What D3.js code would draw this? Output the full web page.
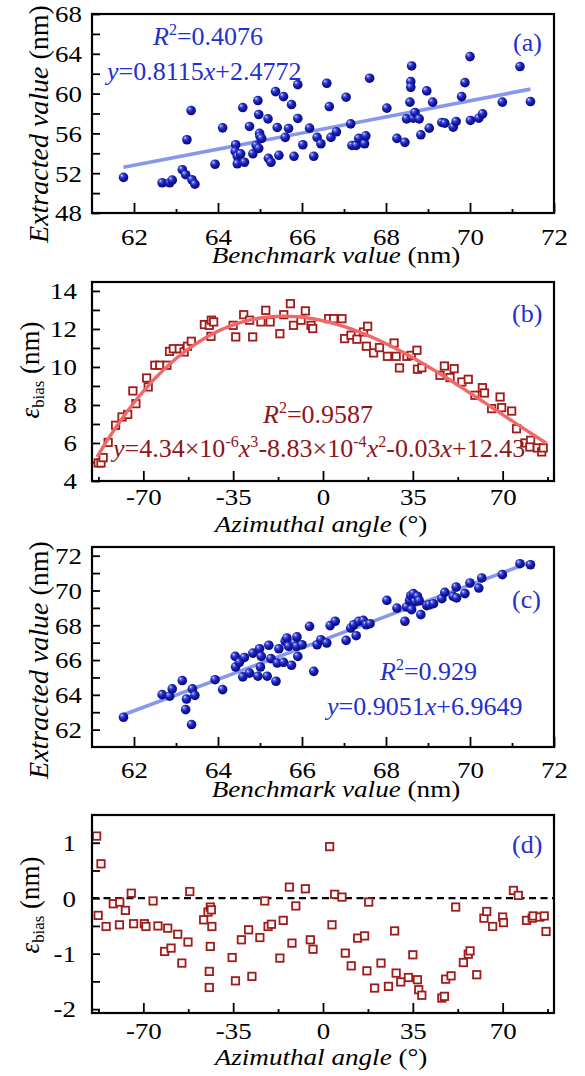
<!DOCTYPE html>
<html>
<head>
<meta charset="utf-8">
<script src="https://cdn.jsdelivr.net/npm/d3@7"></script>
<style>
  body { margin: 0; background: #fff; }
</style>
</head>
<body>
<div id="fig"></div>
<script>
// ---- data ----
// (a) benchmark vs extracted value (nm)
const benchA = [61.75, 62.67, 62.85, 62.91, 63.15, 63.23, 63.38, 63.45, 63.26, 63.36, 63.93, 64.11, 64.42, 64.41, 64.46, 64.46, 64.54, 64.63, 64.59, 64.75, 64.83, 64.91, 64.95, 64.97, 64.99, 65.0, 64.97, 65.04, 65.19, 65.2, 65.26, 65.37, 65.41, 65.45, 65.56, 65.6, 65.68, 65.75, 65.81, 65.9, 65.9, 66.02, 66.18, 66.28, 66.36, 66.45, 66.59, 66.65, 66.69, 66.82, 67.05, 67.16, 67.19, 67.29, 67.35, 67.49, 67.52, 67.61, 68.02, 68.26, 68.45, 68.49, 68.57, 68.59, 68.59, 68.61, 68.65, 68.69, 68.79, 68.83, 68.97, 69.03, 69.11, 69.33, 69.4, 69.6, 69.67, 69.8, 69.88, 70.0, 70.01, 70.21, 70.3, 70.77, 71.19, 71.44];
const extractA = [51.58, 51.04, 51.04, 51.3, 52.35, 51.85, 51.34, 50.9, 55.36, 58.3, 52.9, 56.56, 54.86, 54.19, 53.7, 52.95, 53.95, 53.1, 58.6, 56.7, 53.95, 54.8, 59.3, 57.9, 56.0, 55.7, 54.5, 55.5, 57.46, 53.5, 53.1, 60.2, 56.6, 53.8, 59.7, 55.6, 56.5, 58.9, 53.7, 60.9, 57.5, 54.86, 56.53, 53.7, 55.6, 54.96, 61.04, 58.7, 55.6, 56.16, 59.64, 56.96, 54.79, 54.79, 55.5, 54.96, 55.76, 61.55, 58.54, 55.5, 55.1, 57.46, 59.14, 61.2, 60.64, 62.78, 57.53, 58.1, 57.46, 55.86, 60.27, 56.53, 59.14, 57.1, 57.03, 56.63, 57.2, 59.7, 61.1, 63.72, 57.3, 57.53, 57.97, 59.14, 62.72, 59.2];
const fitA = [0.8115, 2.4772];

// (b) azimuthal angle vs bias (nm)
const angleB = [-87.56, -86.5, -85.65, -83.7, -80.8, -78.3, -76.1, -74.07, -72.9, -68.7, -68.1, -65.5, -63.6, -60.8, -59.8, -58.3, -56.0, -54.1, -52.8, -51.3, -46.2, -44.3, -43.5, -42.6, -43.65, -35, -34.0, -30.9, -28.6, -27.4, -24.2, -22.3, -20.6, -16.8, -15.3, -12.7, -11.5, -8.56, -6.87, -4.67, -4.0, 2.2, 4.15, 7.39, 8.43, 10.9, 13.2, 15.8, 17.4, 16.9, 19.7, 22.0, 25.1, 27.7, 28.5, 29.8, 32.7, 34.4, 36.6, 36.8, 38.5, 45.6, 47.3, 49.5, 51.1, 54.1, 56.6, 59.2, 62.1, 62.9, 65.7, 69.0, 69.6, 73.5, 75.4, 78.7, 80.9, 80.6, 83.5, 85.2, 85.8];
const biasB = [4.95, 4.95, 5.23, 6.03, 6.93, 7.37, 7.5, 8.74, 8.07, 9.42, 8.95, 10.09, 10.09, 10.09, 10.82, 10.96, 10.96, 10.79, 11.09, 11.35, 12.23, 12.19, 12.46, 12.37, 11.61, 12.19, 11.58, 12.75, 12.46, 11.58, 12.37, 12.98, 12.37, 11.75, 12.75, 13.33, 12.19, 12.46, 12.95, 12.19, 12.02, 12.54, 12.54, 12.54, 11.49, 11.67, 11.46, 11.84, 12.14, 11.09, 10.74, 11.02, 10.56, 11.26, 10.56, 9.95, 10.56, 10.61, 10.88, 9.88, 9.96, 9.56, 10.05, 9.44, 9.91, 9.21, 9.35, 8.51, 8.91, 8.63, 7.81, 8.42, 7.86, 7.68, 6.75, 6.0, 6.14, 5.79, 5.74, 5.53, 5.74];
const polyB = [12.43, -0.03, -8.83e-4, 4.34e-6]; // c0 + c1 x + c2 x^2 + c3 x^3
const polyRangeB = [-88, 87];

// (c) benchmark vs corrected extracted value (nm)
const benchC = [61.75, 62.67, 62.85, 62.91, 63.15, 63.23, 63.25, 63.37, 63.39, 63.45, 63.93, 64.11, 64.41, 64.42, 64.51, 64.59, 64.63, 64.75, 64.83, 64.95, 64.99, 65.01, 65.03, 65.17, 65.21, 65.26, 65.38, 65.41, 65.45, 65.56, 65.6, 65.64, 65.68, 65.75, 65.82, 65.88, 65.9, 65.87, 66.0, 66.18, 66.28, 66.36, 66.45, 66.59, 66.67, 66.79, 67.05, 67.16, 67.23, 67.29, 67.35, 67.46, 67.53, 67.62, 68.02, 68.26, 68.45, 68.49, 68.56, 68.59, 68.65, 68.69, 68.61, 68.75, 68.79, 68.83, 68.97, 69.03, 69.13, 69.33, 69.4, 69.6, 69.67, 69.68, 69.88, 70.0, 70.21, 70.28, 70.77, 71.19, 71.44];
const extractC = [62.71, 64.01, 63.92, 64.34, 64.82, 63.15, 63.76, 62.29, 64.34, 63.97, 64.87, 64.3, 66.21, 65.6, 65.87, 65.03, 66.15, 65.25, 66.4, 65.07, 66.65, 65.6, 66.21, 65.07, 66.85, 66.08, 64.78, 65.83, 66.65, 65.87, 67.08, 67.27, 66.79, 65.7, 66.98, 67.33, 66.21, 66.79, 66.88, 67.94, 65.35, 66.88, 67.17, 66.98, 67.98, 68.23, 67.13, 67.84, 68.03, 67.4, 68.23, 68.28, 68.03, 68.09, 69.43, 68.99, 68.23, 69.05, 69.43, 69.7, 69.82, 69.37, 68.9, 69.66, 69.41, 68.61, 69.13, 69.18, 69.24, 69.53, 69.89, 69.66, 70.2, 69.57, 69.82, 70.43, 70.14, 70.72, 70.91, 71.54, 71.48];
const fitC = [0.9051, 6.9649];

// (d) azimuthal angle vs residual bias (nm)
const angleD = [-88.2, -86.5, -87.6, -84.5, -81.7, -79.2, -79.3, -77.0, -74.7, -73.8, -69.6, -69.0, -66.2, -64.3, -61.7, -60.5, -59.2, -56.6, -55.0, -52.6, -51.9, -46.5, -44.8, -43.9, -43.5, -43.3, -43.9, -44.3, -44.3, -35.4, -34.1, -31.8, -29.0, -27.7, -24.6, -22.7, -21.4, -20.1, -16.8, -15.5, -13.1, -12.1, -10.6, -6.87, -4.93, -3.89, 2.59, 3.5, 4.54, 7.39, 8.69, 11.0, 13.5, 16.2, 17.1, 17.8, 20.1, 22.6, 25.5, 27.9, 28.5, 30.3, 33.3, 35.0, 36.8, 37.3, 38.5, 46.3, 47.3, 47.8, 49.9, 51.7, 54.7, 56.6, 57.3, 59.9, 62.7, 63.8, 66.1, 70.0, 70.3, 74.2, 76.1, 79.3, 81.5, 81.9, 84.5, 86.2, 86.9];
const biasD = [1.12, 0.62, -0.31, -0.51, -0.10, -0.07, -0.48, -0.22, 0.09, -0.46, -0.46, -0.51, -0.05, -0.50, -0.96, -0.54, -0.90, -0.65, -1.17, -0.79, 0.12, -0.39, -0.25, -0.16, -0.21, -0.51, -0.87, -1.32, -1.61, -1.07, -1.49, -0.75, -0.57, -1.41, -0.71, -0.05, -0.51, -0.47, -1.08, -0.40, 0.20, -0.81, -0.14, 0.17, -0.75, -0.92, 0.93, -0.48, 0.07, 0.02, -0.99, -1.22, -0.72, -0.68, -1.31, -0.07, -1.62, -1.17, -1.59, -0.59, -1.35, -1.51, -1.43, -1.02, -1.47, -1.65, -1.75, -1.80, -1.77, -1.46, -1.40, -0.16, -1.16, -1.01, -0.95, -1.38, -0.36, -0.24, -0.51, -0.34, -0.44, 0.14, 0.05, -0.40, -0.36, -0.32, -0.34, -0.32, -0.60];

// ---- ticks ----
const benchTicks = [62, 64, 66, 68, 70, 72];
const benchMinor = [63, 65, 67, 69, 71];
const angleTicks = [-70, -35, 0, 35, 70];
const angleMinor = [-87.5, -52.5, -17.5, 17.5, 52.5, 87.5];
const yTicksA = [48, 50, 52, 54, 56, 58, 60, 62, 64, 66, 68];
const yLabelsA = [48, 52, 56, 60, 64, 68];
const yTicksB = [4, 5, 6, 7, 8, 9, 10, 11, 12, 13, 14];
const yLabelsB = [4, 6, 8, 10, 12, 14];
const yTicksC = [62, 63, 64, 65, 66, 67, 68, 69, 70, 71, 72];
const yLabelsC = [62, 64, 66, 68, 70, 72];
const yTicksD = [-2, -1.5, -1, -0.5, 0, 0.5, 1];
const yLabelsD = [-2, -1, 0, 1];

// ---- layout ----
const W = 585, H = 1076;
const LEFT = 92, RIGHT = 554;
const SERIF = '"Liberation Serif", "Times New Roman", serif';
const BLUE = '#2330cf', RED = '#8e1616';
const TICK_SIZE = 23, TICK_SX = 1.17;

const svg = d3.select('#fig').append('svg')
  .attr('width', W)
  .attr('height', H)
  .attr('font-family', SERIF);

const grad = svg.append('defs').append('radialGradient')
  .attr('id', 'ball')
  .attr('cx', '42%').attr('cy', '40%').attr('r', '62%')
  .attr('fx', '30%').attr('fy', '28%');
[[0, '#eef0ff'], [0.2, '#5b68e6'], [0.5, '#1a22bb'], [1, '#06066e']]
  .forEach(([o, c]) => grad.append('stop').attr('offset', o).attr('stop-color', c));

// text with italic / super / sub parts
function richText(parent, parts, size, opt) {
  const t = parent.append('text')
    .attr('transform', `translate(${opt.x},${opt.y}) rotate(${opt.rotate || 0}) scale(${opt.sx || 1},1)`)
    .attr('text-anchor', opt.anchor || 'start')
    .attr('font-size', size)
    .attr('fill', opt.fill || '#000');
  let shift = 0;
  parts.forEach(([str, style]) => {
    const ts = t.append('tspan').text(str);
    let target = 0, fs = size;
    if (style === 'i') ts.attr('font-style', 'italic');
    if (style === 'sup') { target = -0.38 * size; fs = 0.62 * size; }
    if (style === 'sub') { target = 0.2 * size; fs = 0.62 * size; }
    ts.attr('font-size', fs);
    if (target !== shift) { ts.attr('dy', target - shift); shift = target; }
  });
  return t;
}

function drawPanel(p) {
  const g = svg.append('g');
  const x = d3.scaleLinear().domain(p.xDomain).range([LEFT, RIGHT]);
  const y = d3.scaleLinear().domain(p.yDomain).range([p.bottom, p.top]);

  const style = s => s
    .attr('font-size', TICK_SIZE)
    .attr('font-family', SERIF)
    .call(s => s.select('.domain').remove())
    .call(s => s.selectAll('.tick line').attr('stroke-width', 1.8));

  // x axis
  g.append('g')
    .attr('transform', `translate(0,${p.bottom})`)
    .call(d3.axisBottom(x).tickValues(p.xMinor).tickSize(-4).tickFormat(''))
    .call(style);
  g.append('g')
    .attr('transform', `translate(0,${p.bottom})`)
    .call(d3.axisBottom(x).tickValues(p.xTicks).tickSize(-10).tickFormat(d => String(d)))
    .call(style)
    .call(s => s.selectAll('text')
      .attr('y', p.xLabelY - p.bottom)
      .attr('dy', null)
      .attr('transform', `scale(${TICK_SX},1)`));

  // y axis
  g.append('g')
    .attr('transform', `translate(${LEFT},0)`)
    .call(d3.axisLeft(y).tickValues(p.yTicks).tickSize(-8)
      .tickFormat(d => p.yLabels.includes(d) ? String(d) : ''))
    .call(style)
    .call(s => s.selectAll('text')
      .attr('x', -p.yPad / TICK_SX)
      .attr('dy', '0.34em')
      .attr('transform', `scale(${TICK_SX},1)`));

  // axis titles
  richText(g, p.xTitle, 23, { x: p.xTitleX, y: p.xTitleY, anchor: 'middle', sx: 1.18 });
  richText(g, p.yTitle, p.yTitleSize, { x: p.yTitleX, y: p.yTitleY, anchor: 'middle', rotate: -90 });

  p.draw(g, x, y);

  // frame
  g.append('rect')
    .attr('x', LEFT).attr('y', p.top)
    .attr('width', RIGHT - LEFT).attr('height', p.bottom - p.top)
    .attr('fill', 'none')
    .attr('stroke', '#000')
    .attr('stroke-width', 2.2);

  p.notes.forEach(n => richText(g, n.parts, 26, { x: n.x, y: n.y, fill: n.fill }));
}

function balls(g, x, y, xs, ys) {
  g.append('g')
    .selectAll('circle')
    .data(xs.map((v, i) => [v, ys[i]]))
    .join('circle')
    .attr('cx', d => x(d[0]))
    .attr('cy', d => y(d[1]))
    .attr('r', 4.8)
    .attr('fill', 'url(#ball)');
}

function squares(g, x, y, xs, ys) {
  const s = 7.4;
  g.append('g')
    .selectAll('rect')
    .data(xs.map((v, i) => [v, ys[i]]))
    .join('rect')
    .attr('x', d => x(d[0]) - s / 2)
    .attr('y', d => y(d[1]) - s / 2)
    .attr('width', s)
    .attr('height', s)
    .attr('fill', '#fff')
    .attr('stroke', '#a11b1b')
    .attr('stroke-width', 1.8);
}

function fitLine(g, x, y, xs, coef) {
  const ext = d3.extent(xs);
  g.append('path')
    .attr('fill', 'none')
    .attr('stroke', '#8797ee')
    .attr('stroke-width', 3.6)
    .attr('d', d3.line()(ext.map(v => [x(v), y(coef[0] * v + coef[1])])));
}

const benchTitle = [['Benchmark value', 'i'], [' (nm)']];
const extractTitle = [['Extracted value', 'i'], [' (nm)']];
const angleTitle = [['Azimuthal angle', 'i'], [' (°)']];
const biasTitle = [['ε', 'i'], ['bias', 'sub'], [' (nm)']];

drawPanel({
  top: 14, bottom: 213, xDomain: [61, 72], yDomain: [48, 68],
  xTicks: benchTicks, xMinor: benchMinor, yTicks: yTicksA, yLabels: yLabelsA,
  xLabelY: 245, yPad: 10,
  xTitle: benchTitle, xTitleX: 336, xTitleY: 263,
  yTitle: extractTitle, yTitleSize: 28, yTitleX: 48, yTitleY: 124,
  draw: (g, x, y) => {
    fitLine(g, x, y, benchA, fitA);
    balls(g, x, y, benchA, extractA);
  },
  notes: [
    { x: 153, y: 45, fill: BLUE, parts: [['R', 'i'], ['2', 'sup'], ['=0.4076']] },
    { x: 107, y: 80, fill: BLUE, parts: [['y', 'i'], ['=0.8115'], ['x', 'i'], ['+2.4772']] },
    { x: 513, y: 51, fill: BLUE, parts: [['(a)']] }
  ]
});

drawPanel({
  top: 282, bottom: 481, xDomain: [-90, 90], yDomain: [4, 14.47],
  xTicks: angleTicks, xMinor: angleMinor, yTicks: yTicksB, yLabels: yLabelsB,
  xLabelY: 505, yPad: 15,
  xTitle: angleTitle, xTitleX: 321, xTitleY: 532,
  yTitle: biasTitle, yTitleSize: 27, yTitleX: 39, yTitleY: 370,
  draw: (g, x, y) => {
    squares(g, x, y, angleB, biasB);
    const poly = v => polyB.reduce((s, c, k) => s + c * Math.pow(v, k), 0);
    g.append('path')
      .attr('fill', 'none')
      .attr('stroke', '#f06868')
      .attr('stroke-width', 3.4)
      .attr('d', d3.line()(d3.range(polyRangeB[0], polyRangeB[1] + 0.5, 1).map(v => [x(v), y(poly(v))])));
  },
  notes: [
    { x: 263, y: 423, fill: RED, parts: [['R', 'i'], ['2', 'sup'], ['=0.9587']] },
    { x: 113, y: 457, fill: RED, parts: [['y', 'i'], ['=4.34×10'], ['-6', 'sup'], ['x', 'i'], ['3', 'sup'], ['-8.83×10'], ['-4', 'sup'], ['x', 'i'], ['2', 'sup'], ['-0.03'], ['x', 'i'], ['+12.43']] },
    { x: 512, y: 322, fill: BLUE, parts: [['(b)']] }
  ]
});

drawPanel({
  top: 547, bottom: 747, xDomain: [61, 72], yDomain: [61, 72.5],
  xTicks: benchTicks, xMinor: benchMinor, yTicks: yTicksC, yLabels: yLabelsC,
  xLabelY: 778, yPad: 10,
  xTitle: benchTitle, xTitleX: 336, xTitleY: 797,
  yTitle: extractTitle, yTitleSize: 28, yTitleX: 48, yTitleY: 660,
  draw: (g, x, y) => {
    fitLine(g, x, y, benchC, fitC);
    balls(g, x, y, benchC, extractC);
  },
  notes: [
    { x: 380, y: 680, fill: BLUE, parts: [['R', 'i'], ['2', 'sup'], ['=0.929']] },
    { x: 327, y: 715, fill: BLUE, parts: [['y', 'i'], ['=0.9051'], ['x', 'i'], ['+6.9649']] },
    { x: 512, y: 608, fill: BLUE, parts: [['(c)']] }
  ]
});

drawPanel({
  top: 815, bottom: 1013, xDomain: [-90, 90], yDomain: [-2.07, 1.5],
  xTicks: angleTicks, xMinor: angleMinor, yTicks: yTicksD, yLabels: yLabelsD,
  xLabelY: 1039, yPad: 16,
  xTitle: angleTitle, xTitleX: 321, xTitleY: 1065,
  yTitle: biasTitle, yTitleSize: 27, yTitleX: 39, yTitleY: 905,
  draw: (g, x, y) => {
    g.append('line')
      .attr('x1', LEFT).attr('x2', RIGHT)
      .attr('y1', y(0)).attr('y2', y(0))
      .attr('stroke', '#000')
      .attr('stroke-width', 2.2)
      .attr('stroke-dasharray', '7,4.5');
    squares(g, x, y, angleD, biasD);
  },
  notes: [
    { x: 512, y: 853, fill: BLUE, parts: [['(d)']] }
  ]
});
</script>
</body>
</html>
